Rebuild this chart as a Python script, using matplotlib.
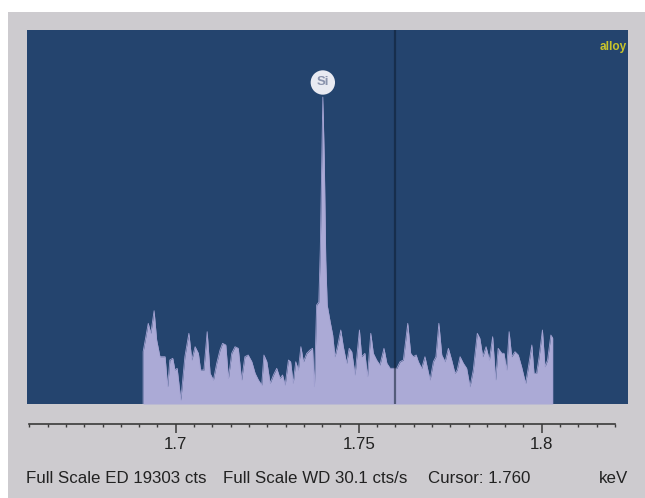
import numpy as np
import matplotlib
matplotlib.use("Agg")
import matplotlib.pyplot as plt
from matplotlib.ticker import FixedLocator, FixedFormatter

# ---- data ----
energy_kev = [1.6911, 1.6925, 1.6932, 1.6941, 1.6948, 1.6957, 1.6971, 1.6978, 1.6984, 1.6992,
              1.6998, 1.7004, 1.7014, 1.7025, 1.7036, 1.7044, 1.7053, 1.7062, 1.7068, 1.7077,
              1.7086, 1.7094, 1.7103, 1.7112, 1.7121, 1.7128, 1.7137, 1.7144, 1.7153, 1.7162,
              1.7171, 1.7180, 1.7189, 1.7198, 1.7208, 1.7217, 1.7226, 1.7235, 1.7241, 1.7249,
              1.7258, 1.7267, 1.7276, 1.7285, 1.7292, 1.7299, 1.7308, 1.7314, 1.7321, 1.7328,
              1.7335, 1.7342, 1.7349, 1.7358, 1.7367, 1.7374, 1.7379, 1.7385, 1.7391, 1.7395,
              1.7399, 1.7402, 1.7406, 1.7410, 1.7414, 1.7422, 1.7429, 1.7435, 1.7442, 1.7451,
              1.7458, 1.7467, 1.7474, 1.7481, 1.7490, 1.7502, 1.7508, 1.7517, 1.7524, 1.7533,
              1.7540, 1.7549, 1.7558, 1.7569, 1.7577, 1.7586, 1.7604, 1.7613, 1.7622, 1.7634,
              1.7642, 1.7649, 1.7657, 1.7663, 1.7672, 1.7681, 1.7695, 1.7704, 1.7711, 1.7719,
              1.7727, 1.7736, 1.7745, 1.7754, 1.7763, 1.7769, 1.7777, 1.7786, 1.7795, 1.7804,
              1.7813, 1.7824, 1.7831, 1.7839, 1.7848, 1.7857, 1.7866, 1.7874, 1.7881, 1.7891,
              1.7897, 1.7904, 1.7911, 1.7918, 1.7927, 1.7936, 1.7945, 1.7956, 1.7963, 1.7973,
              1.7979, 1.7986, 1.7993, 1.8002, 1.8009, 1.8016, 1.8025, 1.8030]
counts = [2699, 4164, 3648, 4814, 3302, 2441, 2441, 893, 2270, 2358,
          1754, 1842, 206, 2441, 3648, 2270, 2957, 2616, 1754, 1754,
          3731, 1584, 1238, 2100, 2786, 3132, 3044, 1326, 2616, 2957,
          2874, 1238, 2441, 2528, 2183, 1584, 1238, 980, 2528, 2183,
          1068, 1496, 1842, 1326, 1496, 980, 2270, 2183, 1068, 2183,
          1754, 2957, 2183, 2616, 2786, 2874, 893, 5108, 5263, 7946,
          12590, 15841, 12590, 7430, 5108, 4247, 3560, 2441, 2957, 3818,
          2957, 2100, 2874, 2699, 1496, 3818, 2441, 2616, 1409, 3648,
          2616, 2270, 2012, 2874, 2100, 1842, 1842, 2183, 2270, 4164,
          2616, 2441, 2528, 2183, 1842, 2441, 1238, 2183, 2441, 4164,
          2528, 2183, 2874, 2270, 1584, 1754, 2441, 2100, 1842, 893,
          1754, 3648, 3390, 2441, 2957, 2270, 3473, 1238, 2874, 2616,
          2616, 1754, 3731, 2441, 2699, 2528, 1925, 1068, 1842, 3044,
          1584, 1584, 2441, 3818, 1925, 2270, 3560, 3406]
full_scale_cts = 19303
peak_label = "Si"
peak_energy = 1.7402
peak_counts = 15841
cursor_kev = 1.760
tick_values = [1.7, 1.75, 1.8]
tick_labels = ["1.7", "1.75", "1.8"]
status_parts = ["Full Scale ED 19303 cts", "Full Scale WD 30.1 cts/s", "Cursor: 1.760"]
unit_label = "keV"
sample_label = "alloy"

# ---- figure ----
W, H = 645, 498
fig = plt.figure(figsize=(W / 100, H / 100), dpi=100)
fig.patch.set_facecolor("white")
FONT = ["Liberation Sans", "DejaVu Sans"]
TXT = 12.2

# grey panel (background axes)
bg = fig.add_axes([8 / W, 0, 1 - 8 / W, 1 - 12 / H], zorder=-5)
bg.set_facecolor("#cdcbcf")
bg.set_xticks([])
bg.set_yticks([])
for s in bg.spines.values():
    s.set_visible(False)

px_per_kev = 3660.0
x_left_px, x_right_px = 27, 628
xmin = 1.7 - (175.7 - x_left_px) / px_per_kev
xmax = 1.8 + (x_right_px - 541.7) / px_per_kev

ax = fig.add_axes([x_left_px / W, (H - 404) / H, (x_right_px - x_left_px) / W, (404 - 30) / H])
ax.set_facecolor("#24446e")
ax.set_xlim(xmin, xmax)
ax.set_ylim(0, full_scale_cts)
for s in ax.spines.values():
    s.set_visible(False)
ax.set_xticks([])
ax.set_yticks([])

xs = np.concatenate([[energy_kev[0]], energy_kev, [energy_kev[-1]]])
ys = np.concatenate([[0], counts, [0]])
ax.fill_between(xs, 0, ys, color="#abaad6", linewidth=0, zorder=2)
ax.plot(xs, ys, color="#a3a2d2", linewidth=0.6, zorder=2)

ax.axvline(cursor_kev, color="#0e1c30", alpha=0.55, linewidth=1.6, zorder=3)

ax.annotate(peak_label, xy=(peak_energy, peak_counts), xytext=(0, 10.5), textcoords="offset points",
            ha="center", va="center", fontsize=9.5, color="#8a93ad", family=FONT,
            fontweight="bold",
            bbox=dict(boxstyle="circle,pad=0.45", fc="#e8eaf2", ec="none"), zorder=4)

ax.text(0.998, 0.955, sample_label, transform=ax.transAxes, ha="right", va="center",
        fontsize=8.5, color="#c9c42a", family=FONT, fontweight="bold")

# ruler axis
rule_y = (H - 424) / H
ax2 = fig.add_axes([x_left_px / W, rule_y, (x_right_px - x_left_px) / W, 0.0001])
ax2.set_xlim(xmin, xmax)
ax2.patch.set_visible(False)
for k in ["top", "left", "right"]:
    ax2.spines[k].set_visible(False)
ax2.spines["bottom"].set_bounds(1.66, 1.82)
ax2.spines["bottom"].set_color("#3a3a3a")
ax2.spines["bottom"].set_linewidth(1.2)
ax2.set_yticks([])
ax2.xaxis.set_major_locator(FixedLocator(tick_values))
ax2.xaxis.set_major_formatter(FixedFormatter(tick_labels))
ax2.xaxis.set_minor_locator(FixedLocator(np.round(np.arange(1.66, 1.8201, 0.005), 3)))
ax2.tick_params(axis="x", which="major", length=6.5, width=1.1, color="#3a3a3a",
                labelsize=TXT, labelcolor="#222222", pad=3)
ax2.tick_params(axis="x", which="minor", length=2.5, width=1.0, color="#3a3a3a")
for lab in ax2.get_xticklabels():
    lab.set_family(FONT)

# status line
status_x = [26, 223, 428]
for sx, txt in zip(status_x, status_parts):
    fig.text(sx / W, (H - 478) / H, txt, ha="left", va="center", fontsize=TXT,
             color="#222222", family=FONT)
fig.text(628 / W, (H - 478) / H, unit_label, ha="right", va="center", fontsize=TXT,
         color="#222222", family=FONT)

fig.savefig("out.png", dpi=100, facecolor=fig.get_facecolor())
